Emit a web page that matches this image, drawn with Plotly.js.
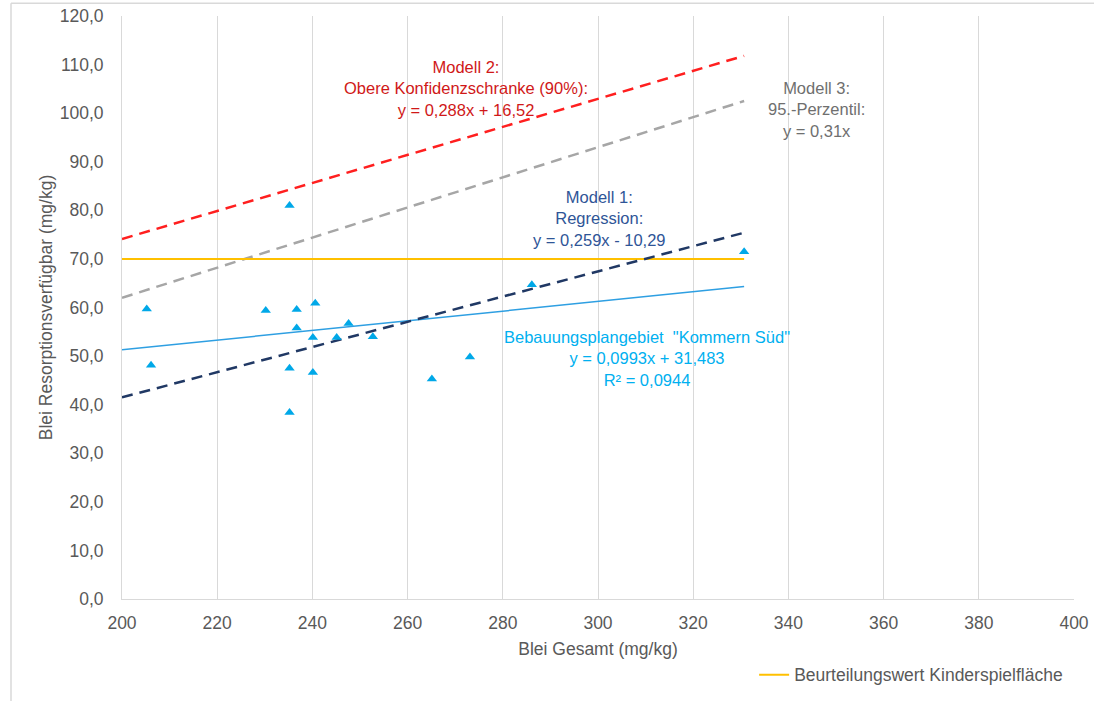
<!DOCTYPE html>
<html>
<head>
<meta charset="utf-8">
<script src="https://cdn.plot.ly/plotly-3.0.1.min.js"></script>
<style>html,body{margin:0;padding:0;background:#fff;}#chart{width:1094px;height:705px;}</style>
</head>
<body>
<div id="chart"></div>
<script>
// Measured points: Blei Gesamt (x) vs Blei Resorptionsverfügbar (y)
const bleiGesamt = [205.2, 206.1, 230.2, 235.2, 236.7, 240.6, 236.7, 240.1, 245.1, 247.6, 252.7, 235.2, 240.1, 235.2, 286.1, 330.7, 273.1, 265.1];
const bleiResorp = [59.7, 48.1, 59.4, 81.0, 59.6, 60.9, 55.8, 53.8, 53.8, 56.7, 54.0, 47.5, 46.6, 38.4, 64.7, 71.5, 49.8, 45.3];

// Line end points (x range of the lines)
const lineX = [200, 330.7];
const trendY = [51.3, 64.3];     // Bebauungsplangebiet trendline
const modell1Y = [41.5, 75.4];   // Modell 1: Regression
const modell2Y = [74.1, 111.8];  // Modell 2: Obere Konfidenzschranke
const modell3Y = [62.0, 102.5];  // Modell 3: 95.-Perzentil
const beurteilungY = [70, 70];   // Beurteilungswert Kinderspielfläche

const xTicks = [200, 220, 240, 260, 280, 300, 320, 340, 360, 380, 400];
const yTicks = [0, 10, 20, 30, 40, 50, 60, 70, 80, 90, 100, 110, 120];

const font = "Liberation Sans, Arial, sans-serif";
const fs = 17.5;

const traces = [
  {x: lineX, y: modell2Y, mode: 'lines', line: {color: '#FF1F1F', width: 2.5, dash: '11px,7px'}, showlegend: false, hoverinfo: 'skip'},
  {x: lineX, y: modell3Y, mode: 'lines', line: {color: '#A6A6A6', width: 2.5, dash: '11px,7px'}, showlegend: false, hoverinfo: 'skip'},
  {x: lineX, y: beurteilungY, mode: 'lines', name: 'Beurteilungswert Kinderspielfläche', line: {color: '#FFC000', width: 2}, showlegend: true},
  {x: lineX, y: trendY, mode: 'lines', line: {color: '#2E9FE2', width: 1.5}, showlegend: false, hoverinfo: 'skip'},
  {x: lineX, y: modell1Y, mode: 'lines', line: {color: '#203864', width: 2.5, dash: '11px,7px'}, showlegend: false, hoverinfo: 'skip'},
  {x: bleiGesamt, y: bleiResorp, mode: 'markers', marker: {symbol: 'triangle-up', size: 9, color: '#00A8E8'}, showlegend: false}
];

function ann(x, y, text, color) {
  return {x: x, y: y, xref: 'x', yref: 'y', text: text, showarrow: false,
          font: {family: font, size: 16.5, color: color}, align: 'center', xanchor: 'center', yanchor: 'middle'};
}

const layout = {
  width: 1094, height: 705,
  margin: {l: 122, r: 20, t: 16, b: 102},
  paper_bgcolor: '#ffffff', plot_bgcolor: '#ffffff',
  separators: ',.',
  font: {family: font, size: fs, color: '#595959'},
  xaxis: {
    range: [200, 400], tickvals: xTicks, ticktext: xTicks.map(String),
    showgrid: true, gridcolor: '#D9D9D9', gridwidth: 1,
    zeroline: false, showline: true, linecolor: '#D9D9D9', linewidth: 1,
    ticks: '', ticklabelstandoff: 8,
    tickfont: {family: font, size: fs, color: '#595959'},
    title: {text: 'Blei Gesamt (mg/kg)', font: {family: font, size: fs, color: '#595959'}, standoff: 10}
  },
  yaxis: {
    range: [0, 120], tickvals: yTicks, tickformat: '.1f',
    showgrid: false, zeroline: false, showline: true, linecolor: '#D9D9D9', linewidth: 1,
    ticks: '', ticklabelstandoff: 14,
    tickfont: {family: font, size: fs, color: '#595959'},
    title: {text: 'Blei Resorptionsverfügbar (mg/kg)', font: {family: font, size: fs, color: '#595959'}, standoff: 2}
  },
  showlegend: true,
  legend: {x: 0.664, y: -0.13, xanchor: 'left', yanchor: 'middle', orientation: 'h',
           font: {family: font, size: fs, color: '#595959'}, bgcolor: 'rgba(0,0,0,0)', itemwidth: 30},
  annotations: [
    ann(272.3, 105.1, 'Modell 2:<br>Obere Konfidenzschranke (90%):<br>y = 0,288x + 16,52', '#D01818'),
    ann(346.0, 100.8, 'Modell 3:<br>95.-Perzentil:<br>y = 0,31x', '#6F6F6F'),
    ann(300.4, 78.3, 'Modell 1:<br>Regression:<br>y = 0,259x - 10,29', '#2F5597'),
    ann(310.3, 49.5, 'Bebauungsplangebiet  "Kommern Süd"<br>y = 0,0993x + 31,483<br>R² = 0,0944', '#00B0F0')
  ],
  shapes: [
    {type: 'line', xref: 'paper', yref: 'paper', x0: -0.1166, x1: -0.1166, y0: 1.022, y1: -0.175, line: {color: '#D9D9D9', width: 1.5}},
    {type: 'line', xref: 'paper', yref: 'paper', x0: -0.1166, x1: 1.021, y0: 1.022, y1: 1.022, line: {color: '#D9D9D9', width: 1.5}}
  ]
};

Plotly.newPlot('chart', traces, layout, {displayModeBar: false, staticPlot: true});
</script>
</body>
</html>
